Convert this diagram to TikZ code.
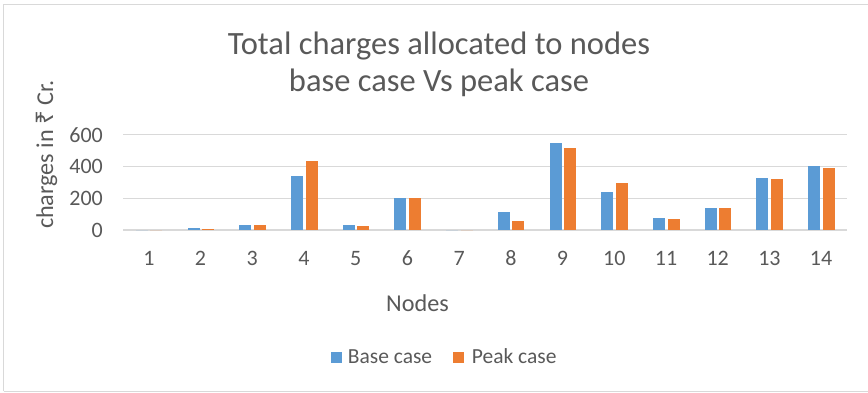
\documentclass[tikz,border=0pt]{standalone}
\usepackage{fontspec}
\setmainfont{Carlito}
\newfontfamily\rupeefont{Noto Sans}
\definecolor{txt}{HTML}{595959}
\definecolor{gridc}{HTML}{D9D9D9}
\definecolor{framec}{HTML}{D9D9D9}
\definecolor{basec}{HTML}{5B9BD5}
\definecolor{peakc}{HTML}{ED7D31}
\tikzset{
  ticklbl/.style={text=txt, font=\fontsize{22}{26}\selectfont, inner sep=0pt},
  axislbl/.style={text=txt, font=\fontsize{24.2}{29}\selectfont, inner sep=0pt},
  titlelbl/.style={text=txt, font=\fontsize{32.5}{38}\selectfont, inner sep=0pt},
  legendlbl/.style={text=txt, font=\fontsize{21.5}{25}\selectfont, inner sep=0pt},
  gridline/.style={draw=gridc, line width=1.1pt},
  swatch/.style={minimum size=11pt, inner sep=0pt, draw=none},
}
\begin{document}
\begin{tikzpicture}[x=1pt,y=-1pt]
\useasboundingbox (0,0) rectangle (868,392);
% chart frame
\draw[framec, line width=1.2pt] (3.5,391.3) -- (3.5,4.5) -- (875,4.5);
\draw[framec, line width=0.6pt] (3.5,391.3) -- (875,391.3);

% title, two lines
\node[titlelbl, anchor=base] (title1) at (439,54.3) {Total charges allocated to nodes};
\node[titlelbl, anchor=base] (title2) at (439,91.7) {base case Vs peak case};

% horizontal gridlines and value labels (200 units = 31.7 px)
\foreach \v in {0,200,400,600} {
  \pgfmathsetmacro\yy{230-\v*0.1585}
  \draw[gridline] (123,\yy) -- (847,\yy);
  \node[ticklbl, anchor=base east] (y\v) at (103,\yy+7.2) {\v};
}

% bars: base case / peak case per node
\foreach \b/\p [count=\i] in {0/0,10/8,32/32,343/435,32/27,204/200,0/0,114/55,549/515,238/295,78/67,141/140,330/320,406/391} {
  \pgfmathsetmacro\c{123+(\i-0.5)*51.714}
  \fill[basec] (\c-13,230) rectangle (\c-1,230-\b*0.1585);
  \fill[peakc] (\c+1.5,230) rectangle (\c+13.5,230-\p*0.1585);
  \node[ticklbl, anchor=base] (x\i) at (\c,265.7) {\i};
}

% axis titles
\node[axislbl, anchor=base] (xtitle) at (417.5,311.7) {Nodes};
\node[axislbl, anchor=base, rotate=90] (ytitle) at (53,154.5) {charges in {\rupeefont ₹} Cr.};

% legend
\node[swatch, fill=basec] (legbase) at (336.2,357.8) {};
\node[legendlbl, anchor=base west] (legbasetxt) at (347.7,363.3) {Base case};
\node[swatch, fill=peakc] (legpeak) at (458.8,357.8) {};
\node[legendlbl, anchor=base west] (legpeaktxt) at (471.7,363.3) {Peak case};
\end{tikzpicture}
\end{document}
